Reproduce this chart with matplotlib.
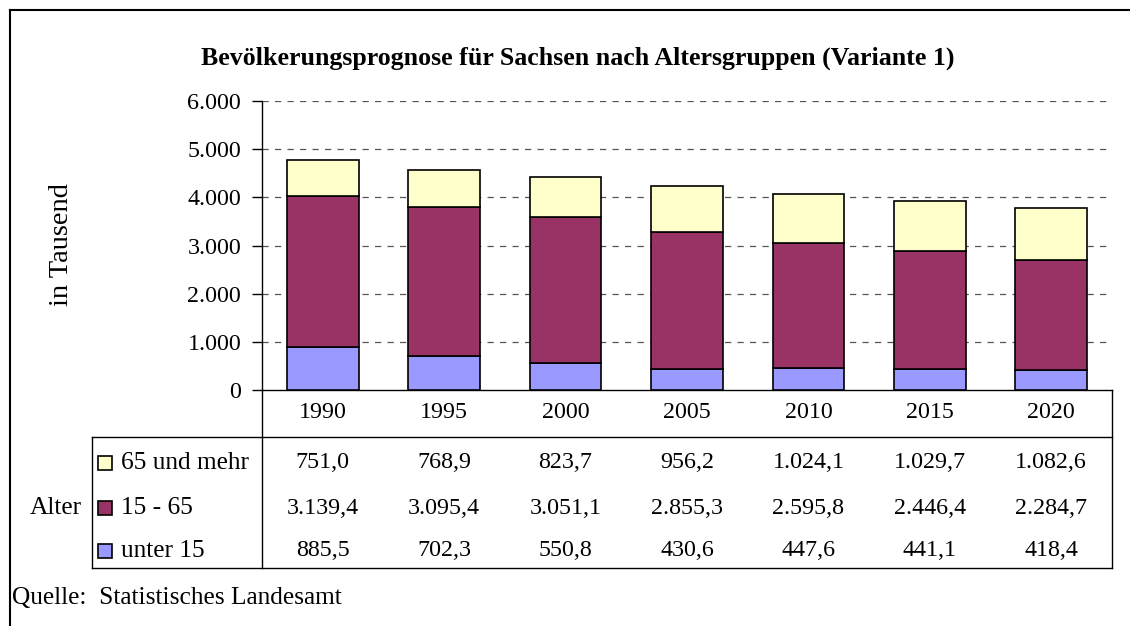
import matplotlib
matplotlib.use("Agg")
import matplotlib.pyplot as plt
from matplotlib.lines import Line2D
from matplotlib.patches import Rectangle
import matplotlib.transforms as mtransforms

years = ["1990", "1995", "2000", "2005", "2010", "2015", "2020"]
unter15 = [885.5, 702.3, 550.8, 430.6, 447.6, 441.1, 418.4]
mitte = [3139.4, 3095.4, 3051.1, 2855.3, 2595.8, 2446.4, 2284.7]
ueber65 = [751.0, 768.9, 823.7, 956.2, 1024.1, 1029.7, 1082.6]
series_names = ["65 und mehr", "15 - 65", "unter 15"]
colors = {"unter 15": "#9999FF", "15 - 65": "#993366", "65 und mehr": "#FFFFCC"}
yticks = [0, 1000, 2000, 3000, 4000, 5000, 6000]
ytick_labels = ["0", "1.000", "2.000", "3.000", "4.000", "5.000", "6.000"]
title = "Bevölkerungsprognose für Sachsen nach Altersgruppen (Variante 1)"
source = "Quelle:  Statistisches Landesamt"

def fmt(v):
    s = f"{v:,.1f}"
    return s.replace(",", "X").replace(".", ",").replace("X", ".")

plt.rcParams['font.family'] = ['Liberation Serif', 'DejaVu Serif']
W, H = 1130, 626
fig = plt.figure(figsize=(W / 100, H / 100), dpi=100)

def fx(px):
    return px / W

def fy(py):
    return 1 - py / H

FS = 17.3      # numbers
FW = 18.3      # words
L, R, T, B = 262, 1112, 101, 390
ax = fig.add_axes([fx(L), fy(B), fx(R) - fx(L), fy(T) - fy(B)])
x = list(range(len(years)))
bw = 0.59
ax.bar(x, unter15, bw, color=colors["unter 15"], edgecolor="black", linewidth=1.2, zorder=3)
ax.bar(x, mitte, bw, bottom=unter15, color=colors["15 - 65"], edgecolor="black", linewidth=1.2, zorder=3)
bot2 = [a + b for a, b in zip(unter15, mitte)]
ax.bar(x, ueber65, bw, bottom=bot2, color=colors["65 und mehr"], edgecolor="black", linewidth=1.2, zorder=3)
ax.set_xlim(-0.5, len(years) - 0.5)
ax.set_ylim(0, 6000)
ax.set_yticks(yticks)
ax.set_yticklabels(ytick_labels, fontsize=FS)
ax.tick_params(axis='y', direction='out', length=7, width=1, pad=8)
ax.set_xticks([])
for t in yticks[1:]:
    ax.axhline(t, color="#555555", linestyle=(0, (5, 5)), linewidth=0.9, zorder=1)
for s in ["top", "right"]:
    ax.spines[s].set_visible(False)
ax.spines["left"].set_linewidth(1)
ax.spines["bottom"].set_linewidth(1)

# Table
blend = mtransforms.blended_transform_factory(ax.transData, fig.transFigure)
lw = 1.0
def hline(y, x0, x1):
    fig.add_artist(Line2D([fx(x0), fx(x1)], [fy(y), fy(y)], color="black", linewidth=lw))
def vline(xp, y0, y1):
    fig.add_artist(Line2D([fx(xp), fx(xp)], [fy(y0), fy(y1)], color="black", linewidth=lw))

hline(437, 92, R)
hline(568, 92, R)
vline(92, 437, 568)
vline(L, 390, 568)
vline(R, 390, 568)

for i, yr in enumerate(years):
    fig.text(i, fy(413), yr, transform=blend, ha="center", va="center", fontsize=FS)

rows = [ueber65, mitte, unter15]
row_y = [463, 508, 551]
for name, vals, yy in zip(series_names, rows, row_y):
    for i, v in enumerate(vals):
        fig.text(i, fy(yy), fmt(v), transform=blend, ha="center", va="center", fontsize=FS)
    fig.add_artist(Rectangle((fx(98), fy(yy + 7)), fx(14), 14 / H, facecolor=colors[name],
                             edgecolor="black", linewidth=1.2))
    fig.text(fx(121), fy(yy), name, ha="left", va="center", fontsize=FW)

fig.text(fx(30), fy(508), "Alter", ha="left", va="center", fontsize=FW)
fig.text(fx(62), fy(245), "in Tausend", rotation=90, ha="center", va="center", fontsize=20.5)
fig.text(fx(578), fy(58), title, ha="center", va="center", fontsize=18.6, fontweight="bold")
fig.text(fx(12), fy(598), source, ha="left", va="center", fontsize=FW)

# outer frame
fig.add_artist(Line2D([fx(10), fx(1130)], [fy(10), fy(10)], color="black", linewidth=1.5))
fig.add_artist(Line2D([fx(10), fx(10)], [fy(10), fy(626)], color="black", linewidth=1.5))

fig.savefig("out.png", dpi=100)
